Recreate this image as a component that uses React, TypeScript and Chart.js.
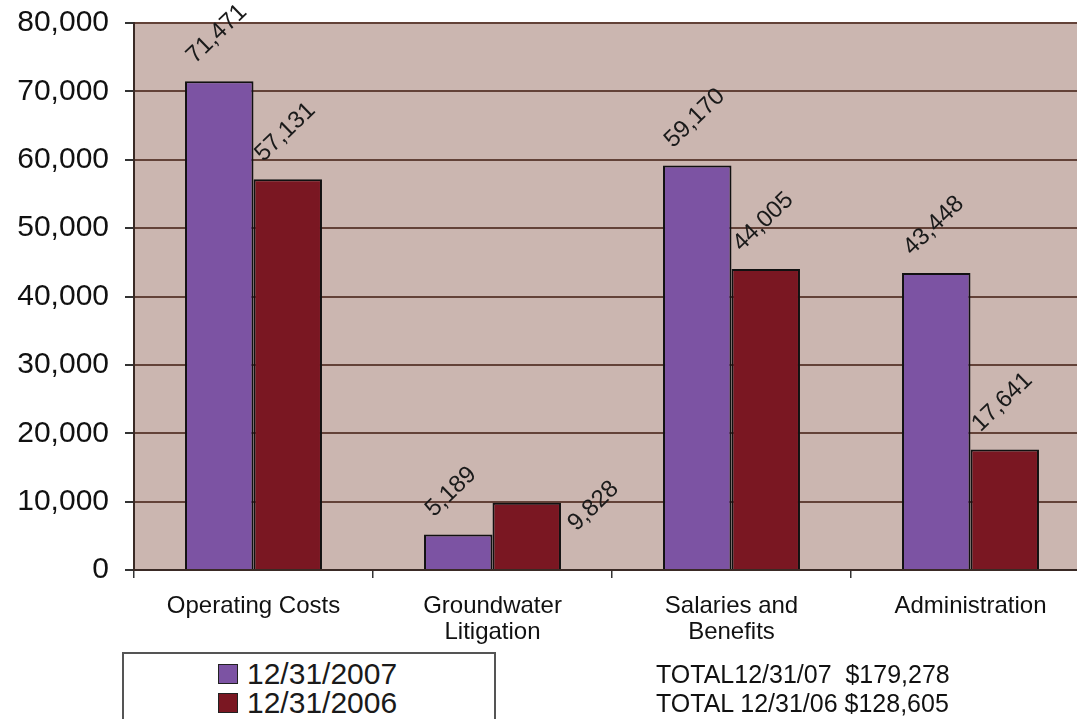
import React, { useEffect, useRef } from 'react';
import { Chart, registerables } from 'chart.js';

Chart.register(...registerables);

const categories: string[][] = [
  ['Operating Costs'],
  ['Groundwater', 'Litigation'],
  ['Salaries and', 'Benefits'],
  ['Administration'],
];
const seriesLabels = ['12/31/2007', '12/31/2006'];
const values2007 = [71471, 5189, 59170, 43448];
const values2006 = [57131, 9828, 44005, 17641];
const yMin = 0;
const yMax = 80000;
const yStep = 10000;
const totalsLines = ['TOTAL12/31/07  $179,278', 'TOTAL 12/31/06 $128,605'];

const FONT = "'Liberation Sans', Arial, Helvetica, sans-serif";
const PURPLE = '#7c53a3';
const RED = '#7a1722';
const PLOT_BG = '#cbb6b0';

// label nudges (dataset index, data index, extra offset in px)
const labelNudges = [{ di: 1, i: 1, dx: 74, dy: 46 }];

const plotBg = {
  id: 'plotBg',
  beforeDraw(chart: any) {
    const { ctx, chartArea: a } = chart;
    ctx.save();
    ctx.fillStyle = PLOT_BG;
    ctx.fillRect(a.left, a.top, a.right - a.left, a.bottom - a.top);
    ctx.restore();
  },
};

const valueLabels = {
  id: 'valueLabels',
  afterDatasetsDraw(chart: any) {
    const { ctx } = chart;
    chart.data.datasets.forEach((ds: any, di: number) => {
      const meta = chart.getDatasetMeta(di);
      meta.data.forEach((bar: any, i: number) => {
        const { x, y, width } = bar.getProps(['x', 'y', 'width'], true);
        let ax = x - width / 2 + 10;
        let ay = y - 17;
        const n = labelNudges.find((m) => m.di === di && m.i === i);
        if (n) {
          ax += n.dx;
          ay += n.dy;
        }
        ctx.save();
        ctx.translate(ax, ay);
        ctx.rotate((-44 * Math.PI) / 180);
        ctx.font = `24px ${FONT}`;
        ctx.fillStyle = '#1a1a1a';
        ctx.textAlign = 'left';
        ctx.textBaseline = 'alphabetic';
        ctx.fillText(Number(ds.data[i]).toLocaleString('en-US'), 0, 0);
        ctx.restore();
      });
    });
  },
};

export default function App() {
  const ref = useRef<HTMLCanvasElement | null>(null);

  useEffect(() => {
    if (!ref.current) return;
    const chart = new Chart(ref.current, {
      type: 'bar',
      data: {
        labels: categories,
        datasets: [
          {
            label: seriesLabels[0],
            data: values2007,
            backgroundColor: PURPLE,
            borderColor: '#111',
            borderWidth: 2,
            barPercentage: 1,
            categoryPercentage: 0.573,
          },
          {
            label: seriesLabels[1],
            data: values2006,
            backgroundColor: RED,
            borderColor: '#111',
            borderWidth: 2,
            barPercentage: 1,
            categoryPercentage: 0.573,
          },
        ],
      },
      options: {
        responsive: false,
        animation: false,
        devicePixelRatio: 1,
        layout: { padding: { top: 23, left: 0, right: 5, bottom: 0 } },
        plugins: {
          legend: { display: false },
          title: { display: false },
          tooltip: { enabled: false },
        },
        scales: {
          x: {
            offset: true,
            grid: {
              offset: true,
              drawOnChartArea: false,
              drawTicks: true,
              tickLength: 8,
              color: '#333',
              lineWidth: 1.5,
            },
            border: { display: true, color: '#3a2a25', width: 2 },
            ticks: {
              font: { family: FONT, size: 24, lineHeight: 1.08 },
              color: '#111',
              padding: 15,
              maxRotation: 0,
              autoSkip: false,
            },
            afterFit(scale: any) {
              scale.height = 149;
              scale.paddingLeft = 0;
              scale.paddingRight = 0;
            },
          },
          y: {
            min: yMin,
            max: yMax,
            ticks: {
              stepSize: yStep,
              font: { family: FONT, size: 30 },
              color: '#111',
              padding: 16,
              callback: (v: any) => Number(v).toLocaleString('en-US'),
            },
            grid: {
              color: '#634238',
              lineWidth: 2,
              tickLength: 9,
              tickColor: '#333',
            },
            border: { display: true, color: '#3a2a25', width: 2 },
            afterFit(scale: any) {
              scale.width = 134;
              scale.paddingTop = 0;
              scale.paddingBottom = 0;
            },
          },
        },
      } as any,
      plugins: [plotBg, valueLabels],
    });
    return () => chart.destroy();
  }, []);

  return (
    <div
      style={{
        position: 'absolute',
        left: 0,
        top: 0,
        width: 1077,
        height: 719,
        overflow: 'hidden',
        background: '#fff',
        fontFamily: FONT,
      }}
    >
      <canvas ref={ref} width={1095} height={719} style={{ display: 'block' }} />
      <div
        style={{
          position: 'absolute',
          left: 122,
          top: 652,
          width: 374,
          height: 90,
          border: '2px solid #555',
          background: '#fff',
          boxSizing: 'border-box',
        }}
      />
      <div style={{ position: 'absolute', left: 218, top: 659, fontSize: 30, lineHeight: '29px', color: '#1a1a1a' }}>
        {seriesLabels.map((s, k) => (
          <div key={s} style={{ whiteSpace: 'pre' }}>
            <span
              style={{
                display: 'inline-block',
                width: 20,
                height: 20,
                boxSizing: 'border-box',
                border: '1.5px solid #222',
                background: k === 0 ? PURPLE : RED,
                marginRight: 9,
              }}
            />
            {s}
          </div>
        ))}
      </div>
      <div style={{ position: 'absolute', left: 656, top: 660, fontSize: 25, lineHeight: '29px', color: '#111' }}>
        {totalsLines.map((t) => (
          <div key={t} style={{ whiteSpace: 'pre' }}>
            {t}
          </div>
        ))}
      </div>
    </div>
  );
}
